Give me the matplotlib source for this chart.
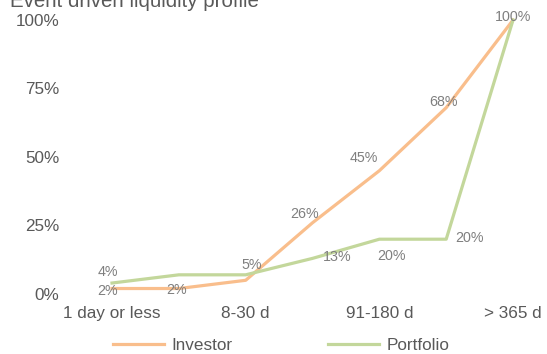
import matplotlib.pyplot as plt

plt.rcParams['font.family'] = ['Liberation Sans', 'DejaVu Sans']

categories = ['1 day or less', '2-7 d', '8-30 d', '31-90 d', '91-180 d', '181-365 d', '> 365 d']
investor = [2, 2, 5, 26, 45, 68, 100]
portfolio = [4, 7, 7, 13, 20, 20, 100]
# which data labels are shown (Excel hides overlapping ones)
investor_shown = [True] * 7
portfolio_shown = [True, False, False, True, True, True, False]

# label offsets in points (dx, dy)
inv_off = [(-3, -2), (-2, -1), (4, 11), (-6, 6), (-11, 9), (-2, 4), (0, 2)]
por_off = [(-3, 8), (0, 0), (0, 0), (18, 1), (9, -12), (17, 1), (0, 0)]

orange = '#F9BE8C'
green = '#C3D79B'
grey = '#595959'
lblgrey = '#7F7F7F'

fig = plt.figure(figsize=(5.47, 3.54), dpi=100)
ax = fig.add_axes([0.1437, 0.1695, 0.8553, 0.774])

x = range(len(categories))
ax.plot(x, [v / 100 for v in investor], color=orange, lw=2.3, label='Investor', clip_on=False)
ax.plot(x, [v / 100 for v in portfolio], color=green, lw=2.3, label='Portfolio', clip_on=False)

for i, v in enumerate(investor):
    if investor_shown[i]:
        ax.annotate(f'{v}%', (i, v / 100), xytext=inv_off[i], textcoords='offset points',
                    ha='center', va='center', fontsize=10.3, color=lblgrey)
for i, v in enumerate(portfolio):
    if portfolio_shown[i]:
        ax.annotate(f'{v}%', (i, v / 100), xytext=por_off[i], textcoords='offset points',
                    ha='center', va='center', fontsize=10.3, color=lblgrey)

ax.set_xlim(-0.5, 6.5)
ax.set_ylim(0, 1)
ax.set_xticks([0, 2, 4, 6])
ax.set_xticklabels([categories[i] for i in [0, 2, 4, 6]])
ax.set_yticks([0, 0.25, 0.5, 0.75, 1])
ax.set_yticklabels(['0%', '25%', '50%', '75%', '100%'])
ax.tick_params(axis='both', length=0, labelsize=12.3, colors=grey)
ax.tick_params(axis='x', pad=9)
ax.tick_params(axis='y', pad=14)
for s in ax.spines.values():
    s.set_visible(False)

fig.text(0.018, 0.995, 'Event driven liquidity profile', fontsize=14.8, color=grey, va='center', ha='left')

fig.legend(loc='center', bbox_to_anchor=(0.514, 0.023), ncol=2, frameon=False,
           fontsize=12.3, labelcolor=grey, handlelength=3.0, columnspacing=5.6, handletextpad=0.4)

fig.savefig('out.png', dpi=100)
